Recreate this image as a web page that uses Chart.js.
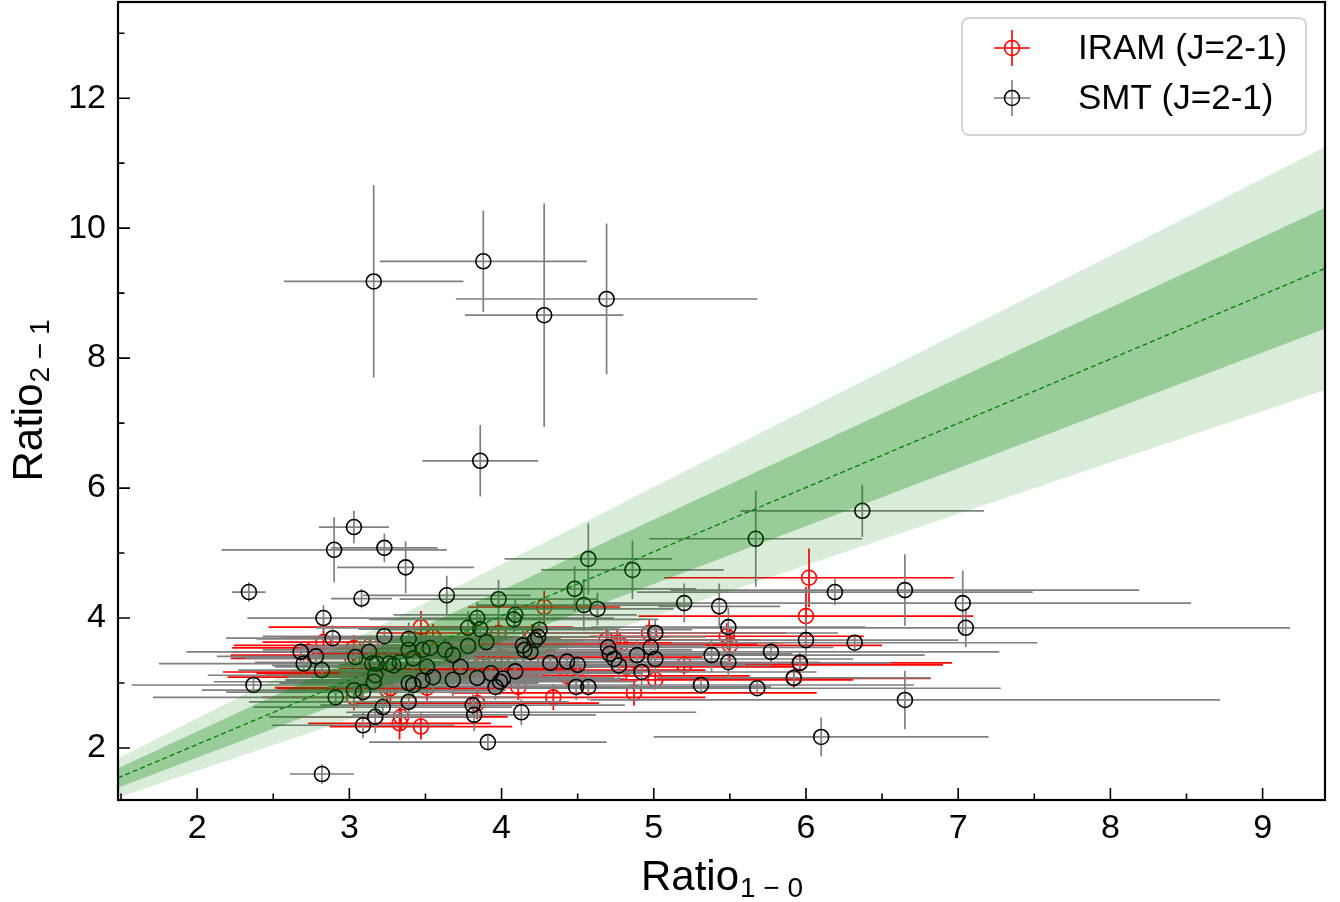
<!DOCTYPE html>
<html>
<head>
<meta charset="utf-8">
<script src="https://cdn.jsdelivr.net/npm/chart.js@4.4.1/dist/chart.umd.min.js"></script>
<style>
  html, body { margin: 0; padding: 0; background: #fff; }
  #wrap { width: 1340px; height: 902px; }
</style>
</head>
<body>
<div id="wrap"><canvas id="myChart" width="1340" height="902"></canvas></div>
<script>
// SMT (J=2-1) points
var smtX = [
  3.16, 3.88, 4.28, 4.69, 3.86, 6.37, 5.67, 3.03, 2.90, 3.23,
  3.37, 2.34, 3.08, 2.83, 4.57, 4.86, 4.48, 4.54, 4.63, 3.98,
  3.64, 5.20, 5.43, 6.19, 6.65, 7.03, 7.05, 5.49, 6.00, 6.32,
  5.77, 5.38, 5.49, 5.96, 5.92, 5.31, 5.68, 6.65, 6.10, 3.91,
  2.82, 2.37, 2.89, 3.23, 2.68, 2.78, 2.70, 2.82, 3.04, 3.13,
  3.39, 3.39, 3.48, 3.53, 3.15, 3.18, 3.26, 3.29, 3.33, 3.42,
  3.51, 3.55, 3.48, 3.39, 3.42, 3.17, 3.16, 3.03, 3.09, 2.91,
  3.39, 3.22, 3.17, 3.09, 3.84, 4.09, 4.08, 3.78, 3.86, 4.25,
  4.24, 4.22, 3.90, 3.78, 4.14, 4.15, 4.19, 3.63, 3.68, 3.73,
  3.68, 3.84, 3.93, 4.09, 3.96, 3.99, 4.01, 4.32, 4.43, 4.50,
  4.49, 4.57, 3.81, 3.82, 4.13, 4.70, 4.71, 4.74, 4.77, 4.89,
  4.98, 5.01, 5.01, 4.92
];
var smtY = [
  9.18, 9.49, 8.66, 8.91, 6.42, 5.65, 5.22, 5.40, 5.05, 5.08,
  4.78, 4.40, 4.30, 4.00, 4.91, 4.74, 4.45, 4.20, 4.14, 4.29,
  4.35, 4.23, 4.18, 4.40, 4.43, 4.23, 3.85, 3.86, 3.66, 3.62,
  3.48, 3.43, 3.32, 3.31, 3.08, 2.97, 2.92, 2.74, 2.17, 2.09,
  1.60, 2.97, 3.69, 3.72, 3.48, 3.41, 3.30, 3.20, 3.40, 3.48,
  3.68, 3.51, 3.51, 3.54, 3.30, 3.30, 3.30, 3.27, 3.32, 3.38,
  3.25, 3.09, 3.04, 3.00, 2.97, 3.12, 3.02, 2.89, 2.86, 2.78,
  2.71, 2.63, 2.48, 2.35, 4.00, 4.05, 3.98, 3.85, 3.83, 3.82,
  3.71, 3.66, 3.63, 3.57, 3.58, 3.51, 3.48, 3.51, 3.43, 3.25,
  3.05, 3.08, 3.15, 3.18, 2.94, 3.02, 3.07, 3.31, 3.33, 3.28,
  2.94, 2.94, 2.66, 2.51, 2.55, 3.55, 3.45, 3.37, 3.27, 3.43,
  3.55, 3.77, 3.37, 3.17
];
var smtXErr = [
  0.59, 0.68, 0.52, 0.99, 0.38, 0.80, 0.70, 0.23, 0.74, 0.35,
  0.45, 0.11, 0.20, 0.50, 0.55, 0.60, 0.80, 0.70, 0.50, 0.65,
  0.55, 0.55, 0.40, 1.30, 1.54, 1.50, 2.13, 0.90, 1.00, 1.20,
  1.50, 1.40, 0.60, 0.60, 0.90, 1.40, 1.60, 2.07, 1.10, 0.78,
  0.21, 0.80, 0.70, 0.80, 0.75, 0.65, 0.95, 0.55, 0.80, 0.90,
  1.00, 0.90, 1.00, 0.85, 1.10, 0.90, 1.00, 0.80, 0.95, 1.10,
  1.00, 0.95, 0.90, 0.85, 1.05, 1.10, 1.05, 1.00, 0.90, 1.20,
  1.05, 0.85, 0.70, 0.60, 0.90, 0.80, 0.95, 1.00, 0.80, 1.00,
  1.10, 1.05, 0.85, 1.10, 1.20, 1.10, 0.90, 1.20, 1.00, 1.05,
  1.10, 0.90, 1.00, 1.15, 1.10, 0.90, 0.80, 1.20, 1.05, 1.10,
  1.05, 1.20, 1.00, 0.80, 1.15, 1.30, 1.20, 1.15, 1.00, 1.10,
  1.20, 1.20, 1.30, 1.15
];
var smtYErr = [
  1.48, 0.78, 1.72, 1.16, 0.55, 0.40, 0.74, 0.25, 0.50, 0.22,
  0.40, 0.15, 0.15, 0.20, 0.55, 0.45, 0.35, 0.40, 0.25, 0.30,
  0.30, 0.30, 0.35, 0.20, 0.55, 0.50, 0.30, 0.30, 0.35, 0.10,
  0.15, 0.25, 0.25, 0.08, 0.10, 0.10, 0.10, 0.45, 0.30, 0.10,
  0.15, 0.12, 0.20, 0.15, 0.15, 0.15, 0.15, 0.15, 0.15, 0.20,
  0.25, 0.25, 0.20, 0.20, 0.20, 0.15, 0.20, 0.15, 0.20, 0.20,
  0.15, 0.20, 0.15, 0.20, 0.20, 0.15, 0.15, 0.20, 0.15, 0.15,
  0.20, 0.20, 0.25, 0.20, 0.25, 0.25, 0.20, 0.25, 0.20, 0.20,
  0.20, 0.20, 0.30, 0.25, 0.25, 0.20, 0.20, 0.20, 0.20, 0.20,
  0.25, 0.20, 0.20, 0.20, 0.20, 0.20, 0.20, 0.20, 0.20, 0.20,
  0.20, 0.20, 0.20, 0.25, 0.20, 0.25, 0.20, 0.20, 0.20, 0.25,
  0.25, 0.20, 0.20, 0.20
];

// IRAM (J=2-1) points
var iramX = [
  6.02, 6.00, 5.48, 5.50, 5.20, 5.96, 5.92, 5.01, 4.87, 4.97,
  4.69, 4.76, 4.78, 4.82, 4.28, 3.98, 3.88, 4.00, 3.78, 3.65,
  3.66, 3.73, 3.88, 4.20, 4.32, 4.19, 4.24, 4.43, 4.11, 4.34,
  3.84, 3.47, 3.55, 2.83, 2.73, 3.03, 3.14, 3.02, 3.22, 3.12,
  3.20, 3.29, 3.50, 3.51, 3.03, 3.25, 3.34, 3.33, 3.47, 3.27
];
var iramY = [
  4.62, 4.03, 3.72, 3.58, 3.28, 3.31, 3.07, 3.05, 2.85, 3.77,
  3.66, 3.62, 3.59, 3.25, 4.17, 3.77, 3.48, 3.40, 3.40, 3.45,
  3.26, 3.22, 3.28, 3.71, 3.40, 3.20, 3.20, 3.11, 2.94, 2.78,
  2.69, 3.86, 3.71, 3.63, 3.48, 3.54, 3.58, 3.38, 3.43, 3.17,
  3.09, 3.15, 3.12, 2.93, 2.78, 2.89, 2.48, 2.38, 2.33, 2.92
];
var iramXErr = [
  0.95, 1.10, 0.90, 1.00, 1.70, 1.00, 0.90, 1.30, 1.20, 0.90,
  1.00, 1.10, 0.90, 1.10, 0.50, 0.80, 0.90, 1.00, 0.80, 0.90,
  1.00, 0.80, 0.95, 0.90, 1.00, 0.90, 1.10, 1.20, 1.10, 1.00,
  0.80, 1.00, 1.00, 0.40, 0.50, 0.80, 0.90, 0.80, 1.00, 0.95,
  1.00, 0.90, 1.05, 1.00, 0.60, 0.70, 0.70, 0.60, 0.60, 0.75
];
var iramYErr = [
  0.45, 0.45, 0.20, 0.25, 0.15, 0.15, 0.15, 0.15, 0.20, 0.20,
  0.20, 0.20, 0.20, 0.20, 0.25, 0.25, 0.20, 0.20, 0.20, 0.20,
  0.20, 0.20, 0.20, 0.20, 0.20, 0.20, 0.20, 0.20, 0.20, 0.20,
  0.25, 0.25, 0.20, 0.20, 0.15, 0.20, 0.15, 0.20, 0.20, 0.20,
  0.20, 0.20, 0.20, 0.20, 0.20, 0.20, 0.20, 0.25, 0.20, 0.20
];

// fit line and 1/2 sigma bands, read at the plot edges
var fitX = [1.48, 9.41];
var fitY = [1.54, 9.38];
var darkUpper = [1.69, 10.31];
var darkLower = [1.39, 8.45];
var lightUpper = [1.84, 11.25];
var lightLower = [1.24, 7.51];

var xTicks = [2, 3, 4, 5, 6, 7, 8, 9];
var xMinor = [1.5, 2.5, 3.5, 4.5, 5.5, 6.5, 7.5, 8.5];
var yTicks = [2, 4, 6, 8, 10, 12];
var yMinor = [3, 5, 7, 9, 11, 13];

var FONT = '"Liberation Sans", Arial, Helvetica, sans-serif';

function pts(xs, ys) {
  return xs.map(function (x, i) { return { x: x, y: ys[i] }; });
}

function bandLine(ys, color, fill, order) {
  return {
    type: "line",
    data: pts(fitX, ys),
    borderWidth: 0,
    borderColor: "rgba(0,0,0,0)",
    backgroundColor: color,
    pointRadius: 0,
    fill: fill,
    order: order,
  };
}

function noPad(s) {
  s.paddingTop = 0;
  s.paddingBottom = 0;
  s.paddingLeft = 0;
  s.paddingRight = 0;
}

var errorBars = {
  id: "errorBars",
  beforeDatasetDraw: function (chart, args) {
    var ds = chart.data.datasets[args.index];
    if (!ds.xErr) return;
    var ctx = chart.ctx, xs = chart.scales.x, ys = chart.scales.y, a = chart.chartArea;
    ctx.save();
    ctx.beginPath();
    ctx.rect(a.left, a.top, a.right - a.left, a.bottom - a.top);
    ctx.clip();
    ctx.strokeStyle = ds.errColor;
    ctx.lineWidth = 1.7;
    ctx.beginPath();
    ds.data.forEach(function (p, i) {
      var px = xs.getPixelForValue(p.x), py = ys.getPixelForValue(p.y);
      ctx.moveTo(xs.getPixelForValue(p.x - ds.xErr[i]), py);
      ctx.lineTo(xs.getPixelForValue(p.x + ds.xErr[i]), py);
      ctx.moveTo(px, ys.getPixelForValue(p.y - ds.yErr[i]));
      ctx.lineTo(px, ys.getPixelForValue(p.y + ds.yErr[i]));
    });
    ctx.stroke();
    ctx.restore();
  },
};

function drawSubLabel(ctx, main, sub, cx, base) {
  ctx.font = "42px " + FONT;
  var w1 = ctx.measureText(main).width;
  ctx.font = "28px " + FONT;
  var w2 = ctx.measureText(sub).width;
  var start = cx - (w1 + w2) / 2;
  ctx.textAlign = "left";
  ctx.textBaseline = "alphabetic";
  ctx.font = "42px " + FONT;
  ctx.fillText(main, start, base);
  ctx.font = "28px " + FONT;
  ctx.fillText(sub, start + w1 + 1, base + 7);
}

function legendMarker(ctx, x, y, color, barColor) {
  ctx.strokeStyle = barColor;
  ctx.lineWidth = 1.6;
  ctx.beginPath();
  ctx.moveTo(x - 18, y); ctx.lineTo(x + 18, y);
  ctx.moveTo(x, y - 18); ctx.lineTo(x, y + 18);
  ctx.stroke();
  ctx.strokeStyle = color;
  ctx.beginPath();
  ctx.arc(x, y, 7.5, 0, Math.PI * 2);
  ctx.stroke();
}

var frame = {
  id: "frame",
  afterDraw: function (chart) {
    var ctx = chart.ctx, a = chart.chartArea, xs = chart.scales.x, ys = chart.scales.y;
    ctx.save();
    ctx.strokeStyle = "#000";
    ctx.lineWidth = 1.6;
    ctx.beginPath();
    xTicks.forEach(function (v) {
      var p = xs.getPixelForValue(v);
      ctx.moveTo(p, a.bottom); ctx.lineTo(p, a.bottom - 12);
    });
    xMinor.forEach(function (v) {
      var p = xs.getPixelForValue(v);
      if (p < a.left + 2) return;
      ctx.moveTo(p, a.bottom); ctx.lineTo(p, a.bottom - 6.5);
    });
    yTicks.forEach(function (v) {
      var p = ys.getPixelForValue(v);
      ctx.moveTo(a.left, p); ctx.lineTo(a.left + 12, p);
    });
    yMinor.forEach(function (v) {
      var p = ys.getPixelForValue(v);
      ctx.moveTo(a.left, p); ctx.lineTo(a.left + 6.5, p);
    });
    ctx.stroke();

    ctx.lineWidth = 2.2;
    ctx.strokeRect(a.left, a.top, a.right - a.left, a.bottom - a.top);

    // axis titles
    ctx.fillStyle = "#000";
    drawSubLabel(ctx, "Ratio", "1 \u2212 0", (a.left + a.right) / 2, 890);
    ctx.save();
    ctx.translate(42, (a.top + a.bottom) / 2);
    ctx.rotate(-Math.PI / 2);
    drawSubLabel(ctx, "Ratio", "2 \u2212 1", 0, 0);
    ctx.restore();

    // legend
    var bx = 962, by = 18, bw = 344, bh = 117, r = 7;
    ctx.beginPath();
    ctx.moveTo(bx + r, by);
    ctx.arcTo(bx + bw, by, bx + bw, by + bh, r);
    ctx.arcTo(bx + bw, by + bh, bx, by + bh, r);
    ctx.arcTo(bx, by + bh, bx, by, r);
    ctx.arcTo(bx, by, bx + bw, by, r);
    ctx.closePath();
    ctx.fillStyle = "rgba(255,255,255,0.8)";
    ctx.fill();
    ctx.strokeStyle = "#d4d4d4";
    ctx.lineWidth = 2;
    ctx.stroke();

    legendMarker(ctx, 1012, 48, "#ff0000", "#ff0000");
    legendMarker(ctx, 1012, 98, "#000000", "#808080");
    ctx.fillStyle = "#000";
    ctx.font = "35px " + FONT;
    ctx.textAlign = "left";
    ctx.textBaseline = "middle";
    ctx.fillText("IRAM (J=2-1)", 1078, 49);
    ctx.fillText("SMT (J=2-1)", 1078, 99);
    ctx.restore();
  },
};

window.onload = function () {
  var ctx = document.getElementById("myChart").getContext("2d");
  new Chart(ctx, {
    type: "scatter",
    data: {
      datasets: [
        {
          type: "line",
          label: "fit",
          data: pts(fitX, fitY),
          borderColor: "#008000",
          borderWidth: 1.3,
          borderDash: [5, 3],
          pointRadius: 0,
          fill: false,
          order: 0,
        },
        bandLine(darkUpper, "rgba(0,128,0,0.3)", "+1", 1),
        bandLine(darkLower, "rgba(0,0,0,0)", false, 1),
        bandLine(lightUpper, "rgba(0,128,0,0.15)", "+1", 2),
        bandLine(lightLower, "rgba(0,0,0,0)", false, 2),
        {
          label: "SMT (J=2-1)",
          data: pts(smtX, smtY),
          xErr: smtXErr,
          yErr: smtYErr,
          errColor: "#808080",
          pointStyle: "circle",
          pointRadius: 7.5,
          pointBorderWidth: 1.6,
          borderColor: "#000000",
          backgroundColor: "rgba(0,0,0,0)",
          order: 3,
        },
        {
          label: "IRAM (J=2-1)",
          data: pts(iramX, iramY),
          xErr: iramXErr,
          yErr: iramYErr,
          errColor: "#ff0000",
          pointStyle: "circle",
          pointRadius: 7.5,
          pointBorderWidth: 1.6,
          borderColor: "#ff0000",
          backgroundColor: "rgba(0,0,0,0)",
          order: 4,
        },
      ],
    },
    options: {
      responsive: false,
      animation: false,
      devicePixelRatio: 1,
      layout: { autoPadding: false, padding: { top: 2, right: 15, left: 0, bottom: 0 } },
      plugins: {
        legend: { display: false },
        tooltip: { enabled: false },
        filler: { drawTime: "beforeDatasetDraw" },
      },
      scales: {
        x: {
          type: "linear",
          min: 1.48,
          max: 9.41,
          grid: { display: false, drawTicks: false },
          border: { display: false },
          ticks: { color: "#000", font: { family: FONT, size: 34 }, padding: 8 },
          afterBuildTicks: function (s) { s.ticks = xTicks.map(function (v) { return { value: v }; }); },
          afterFit: function (s) { s.height = 102; noPad(s); },
        },
        y: {
          type: "linear",
          min: 1.2,
          max: 13.48,
          grid: { display: false, drawTicks: false },
          border: { display: false },
          ticks: { color: "#000", font: { family: FONT, size: 34 }, padding: 12 },
          afterBuildTicks: function (s) { s.ticks = yTicks.map(function (v) { return { value: v }; }); },
          afterFit: function (s) { s.width = 118; noPad(s); },
        },
      },
    },
    plugins: [errorBars, frame],
  });
};
</script>
</body>
</html>
